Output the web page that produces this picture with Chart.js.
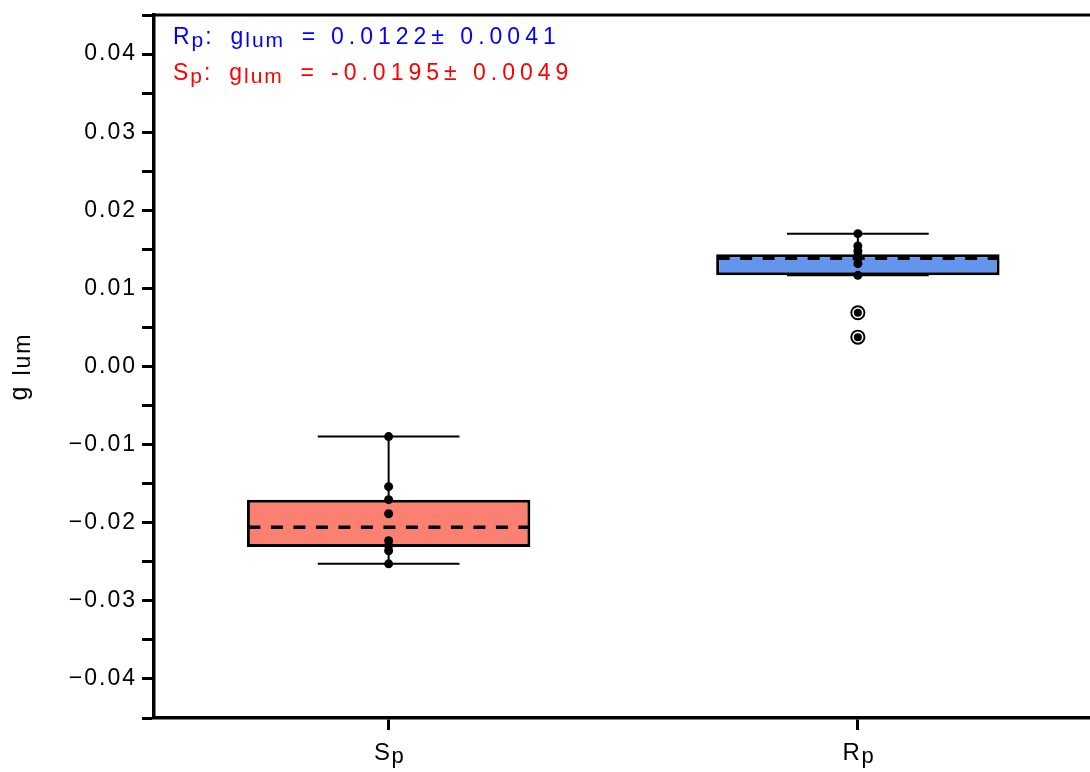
<!DOCTYPE html>
<html>
<head>
<meta charset="utf-8">
<script src="https://cdn.jsdelivr.net/npm/chart.js@4/dist/chart.umd.min.js"></script>
<style>
  html, body { margin: 0; padding: 0; background: #fff; overflow: hidden; }
  #wrap { width: 1100px; height: 772px; }
</style>
</head>
<body>
<div id="wrap"><canvas id="chart" width="1100" height="772"></canvas></div>
<script>
// values
const categories = ['Sp', 'Rp'];
const q1 = [-0.0231, 0.01167];
const q3 = [-0.01705, 0.01436];
const medians = [-0.02058, 0.01385];
const whiskerLo = [-0.02526, 0.01167];
const whiskerHi = [-0.00897, 0.01701];
const spPoints = [-0.00897, -0.01538, -0.01705, -0.01885, -0.02231, -0.02295, -0.02359, -0.02526];
const rpPoints = [0.01701, 0.01542, 0.01478, 0.01423, 0.01381, 0.01317, 0.01167];
const rpOutliers = [0.00688, 0.00376];
const boxColors = ['#FA8072', '#6495ED'];
const summaries = [
	{name: 'R', mean: '0.0122', sd: '0.0041', color: '#0000FF'},
	{name: 'S', mean: '-0.0195', sd: '0.0049', color: '#FF0000'}
];

const FONT = '"Liberation Sans", Arial, sans-serif';

function toPoints(cat, values) {
	return values.map(function(v) {
		return {x: cat, y: v};
	});
}

// draw a run of text pieces, some of them as subscripts
function drawRich(ctx, x, y, parts, size) {
	parts.forEach(function(p) {
		ctx.font = (p.sub ? size - 2 : size) + 'px ' + FONT;
		ctx.letterSpacing = (p.ls === undefined ? 2 : p.ls) + 'px';
		ctx.fillText(p.t, x, y + (p.sub ? 3 : 0));
		x += ctx.measureText(p.t).width;
	});
	return x;
}

function richWidth(ctx, parts, size) {
	let w = 0;
	parts.forEach(function(p) {
		ctx.font = (p.sub ? size - 2 : size) + 'px ' + FONT;
		ctx.letterSpacing = (p.ls === undefined ? 2 : p.ls) + 'px';
		w += ctx.measureText(p.t).width;
	});
	return w;
}

const boxPlugin = {
	id: 'boxParts',
	beforeDraw(chart) {
		// slightly wider type for the axis numbers
		chart.ctx.letterSpacing = '2px';
	},
	beforeDatasetsDraw(chart) {
		const ctx = chart.ctx;
		const yScale = chart.scales.y;
		const meta = chart.getDatasetMeta(0);
		ctx.save();
		ctx.strokeStyle = '#000';
		ctx.lineWidth = 2;
		meta.data.forEach(function(bar, i) {
			const x = bar.x;
			const half = bar.width / 4;
			const yLo = yScale.getPixelForValue(whiskerLo[i]);
			const yHi = yScale.getPixelForValue(whiskerHi[i]);
			ctx.beginPath();
			ctx.moveTo(x, yScale.getPixelForValue(q3[i]));
			ctx.lineTo(x, yHi);
			ctx.moveTo(x, yScale.getPixelForValue(q1[i]));
			ctx.lineTo(x, yLo);
			ctx.moveTo(x - half, yHi);
			ctx.lineTo(x + half, yHi);
			ctx.moveTo(x - half, yLo);
			ctx.lineTo(x + half, yLo);
			ctx.stroke();
		});
		ctx.restore();
	},
	afterDatasetDraw(chart, args) {
		if (args.index !== 0) {
			return;
		}
		const ctx = chart.ctx;
		const yScale = chart.scales.y;
		ctx.save();
		ctx.strokeStyle = '#000';
		ctx.lineWidth = 3.5;
		ctx.setLineDash([12, 10.5]);
		args.meta.data.forEach(function(bar, i) {
			const y = yScale.getPixelForValue(medians[i]);
			ctx.beginPath();
			ctx.moveTo(bar.x - bar.width / 2 + 1.5, y);
			ctx.lineTo(bar.x + bar.width / 2 - 1.5, y);
			ctx.stroke();
		});
		ctx.restore();
	},
	afterDraw(chart) {
		const ctx = chart.ctx;
		const area = chart.chartArea;
		const xScale = chart.scales.x;
		ctx.save();

		// top frame
		ctx.strokeStyle = '#000';
		ctx.lineWidth = 3;
		ctx.beginPath();
		ctx.moveTo(area.left, area.top);
		ctx.lineTo(area.right + 5, area.top);
		ctx.stroke();

		// category labels with subscript
		ctx.fillStyle = '#000';
		ctx.textBaseline = 'alphabetic';
		ctx.textAlign = 'left';
		categories.forEach(function(c, i) {
			const parts = [{t: c[0], ls: 1.5}, {t: c.slice(1), sub: true, ls: 1.5}];
			const w = richWidth(ctx, parts, 24);
			drawRich(ctx, xScale.getPixelForValue(i) - w / 2 + 1, 760, parts, 24);
		});

		// y axis title
		const title = [{t: 'g ', ls: 2}, {t: 'lum', sub: true, ls: 2}];
		const tw = richWidth(ctx, title, 25);
		ctx.translate(27, (area.top + area.bottom) / 2);
		ctx.rotate(-Math.PI / 2);
		drawRich(ctx, -tw / 2, 0, title, 25);
		ctx.setTransform(1, 0, 0, 1, 0, 0);

		// summary text
		summaries.forEach(function(s, i) {
			const y = area.top + 29 + i * 36;
			ctx.fillStyle = s.color;
			drawRich(ctx, area.left + 19, y, [
				{t: s.name}, {t: 'p', sub: true}, {t: ':  g'}, {t: 'lum', sub: true}, {t: '  ='}
			], 23);
			drawRich(ctx, area.left + 177, y, [{t: s.mean + '\u00b1 ' + s.sd, ls: 5}], 23);
		});
		ctx.restore();
	}
};

new Chart(document.getElementById('chart'), {
	type: 'bar',
	data: {
		labels: categories,
		datasets: [
			{
				label: 'box',
				data: q1.map(function(v, i) { return [v, q3[i]]; }),
				backgroundColor: boxColors,
				borderColor: '#000',
				borderWidth: 3,
				borderSkipped: false,
				barPercentage: 0.604,
				categoryPercentage: 1,
				order: 3
			},
			{
				type: 'scatter',
				label: 'points',
				data: toPoints('Sp', spPoints).concat(toPoints('Rp', rpPoints)),
				backgroundColor: '#000',
				borderWidth: 0,
				pointRadius: 4.5,
				order: 0
			},
			{
				type: 'scatter',
				label: 'outlier ring',
				data: toPoints('Rp', rpOutliers),
				backgroundColor: '#000',
				borderWidth: 0,
				pointRadius: 7.5,
				order: 2
			},
			{
				type: 'scatter',
				label: 'outliers',
				data: toPoints('Rp', rpOutliers),
				backgroundColor: '#000',
				borderColor: '#fff',
				borderWidth: 1.6,
				pointRadius: 4.8,
				order: 1
			}
		]
	},
	options: {
		responsive: false,
		animation: false,
		devicePixelRatio: 1,
		layout: {padding: {top: 15, right: 2, bottom: 42, left: 0}},
		plugins: {
			legend: {display: false},
			tooltip: {enabled: false}
		},
		scales: {
			x: {
				type: 'category',
				offset: true,
				grid: {
					display: true,
					offset: false,
					drawOnChartArea: false,
					drawTicks: true,
					tickLength: 12,
					tickWidth: 3,
					tickColor: '#000'
				},
				border: {display: true, color: '#000', width: 3.5},
				ticks: {display: false}
			},
			y: {
				min: -0.045,
				max: 0.045,
				afterFit: function(scale) {
					scale.width = 154;
					scale.paddingTop = 0;
					scale.paddingBottom = 0;
				},
				grid: {
					display: true,
					drawOnChartArea: false,
					drawTicks: true,
					tickLength: 12,
					tickWidth: 3,
					tickColor: '#000'
				},
				border: {display: true, color: '#000', width: 3.5},
				ticks: {
					stepSize: 0.005,
					autoSkip: false,
					padding: 5,
					color: '#000',
					font: {family: FONT, size: 23},
					callback: function(value) {
						const k = Math.round(value * 200);
						if (k % 2 !== 0) {
							return '';
						}
						const v = k / 200;
						return (v < 0 ? '\u2212' : '') + Math.abs(v).toFixed(2);
					}
				}
			}
		}
	},
	plugins: [boxPlugin]
});
</script>
</body>
</html>
